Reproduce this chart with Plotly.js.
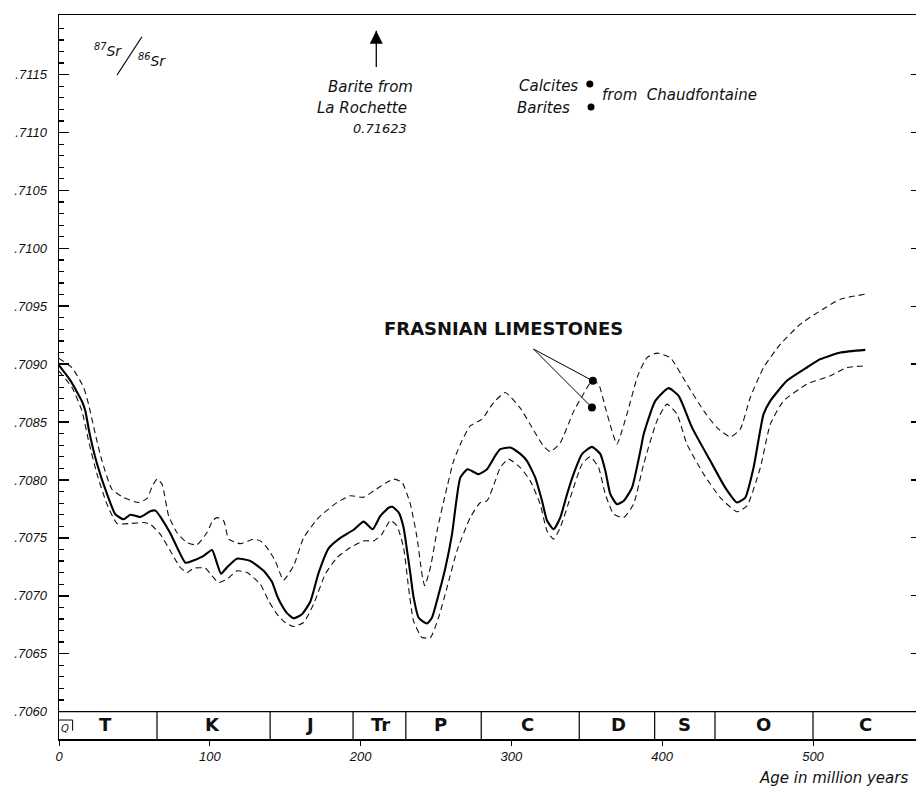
<!DOCTYPE html>
<html>
<head>
<meta charset="utf-8">
<script src="https://cdn.plot.ly/plotly-3.0.1.min.js"></script>
<style>
html,body{margin:0;padding:0;background:#fff;}
#chart{width:916px;height:789px;}
</style>
</head>
<body>
<div id="chart"></div>
<script>
// ---- Data: 87Sr/86Sr seawater curve vs age (Ma) ----
const mainAge = [0,7.5,15.2,17.4,20.3,25.2,31.8,37.3,42.8,47.3,53.9,60.5,64,68.3,73.8,79.3,83.8,88.2,95.9,101.5,104.3,107.4,111.4,118,126.9,135.7,141.2,144.6,146.8,151.2,155.6,161.1,166.7,172.2,178.8,186.6,195.4,202,208,213.1,218.6,221,225.2,228.5,230.8,233,235.1,238.5,244,247.3,251.7,256.2,260.6,263.5,266.1,270.9,278.2,283.8,289.3,292.6,299.3,305.9,310.3,315.8,320.3,323.6,328,332.4,336.9,341.2,346.8,353.4,359,362.3,365.6,370,374.4,380,385.5,387.7,395.4,404.2,410.9,419.8,431.9,441.8,449.6,455.1,460.6,467.2,471.7,482.7,496,504.8,518.1,534.7];
const mainSr = [0.70899,0.70886,0.70868,0.70860,0.70840,0.70814,0.70788,0.707705,0.70766,0.70770,0.70768,0.70773,0.707735,0.70766,0.70754,0.70739,0.707285,0.70730,0.707345,0.707395,0.70730,0.70719,0.707245,0.70732,0.70730,0.707215,0.70712,0.70700,0.70694,0.70685,0.706805,0.70684,0.70695,0.70720,0.70741,0.70750,0.70757,0.70764,0.707575,0.70769,0.70776,0.707768,0.70772,0.70759,0.70739,0.70719,0.70699,0.70681,0.70676,0.70681,0.70701,0.70724,0.70753,0.70782,0.70802,0.708093,0.70805,0.708093,0.70821,0.708266,0.70828,0.708225,0.708165,0.70802,0.70782,0.70765,0.707575,0.707675,0.707877,0.70805,0.708223,0.708286,0.708223,0.708079,0.707877,0.707791,0.707819,0.707934,0.70825,0.708395,0.708683,0.708793,0.708726,0.708452,0.708165,0.707934,0.707805,0.707848,0.708107,0.708568,0.708683,0.708856,0.708971,0.709043,0.70910,0.709123];

const upperAge = [0,8.6,16.3,19.6,24.1,28.5,35.1,42.8,52.8,58.4,62,65,68.3,72.7,78.2,84.9,91.5,98.1,102,104.8,109.2,112.5,120.2,129,133.5,137.9,143.4,148.9,155.6,162.2,172.2,184.4,193.2,202,208.7,217.5,221.9,227.5,233,237.4,240.7,242.5,246.3,250.7,256.2,261.7,267.2,272.7,280.5,288.2,295.9,305.9,314.7,321.4,325.8,332.4,341.2,349,353.4,357.8,362.3,366.7,370,376.6,383.8,389.9,396.5,405.3,416.4,427.5,436.3,445.2,451.8,458.4,467.2,478.4,491.6,504.8,518.1,534.7];
const upperSr = [0.70905,0.70897,0.70880,0.708655,0.708395,0.708165,0.70792,0.707848,0.707805,0.70784,0.70795,0.708007,0.707964,0.70769,0.707546,0.707459,0.70744,0.707546,0.70765,0.707675,0.707647,0.707489,0.70745,0.707489,0.707474,0.707416,0.707301,0.707135,0.70726,0.70750,0.707675,0.707805,0.707863,0.70785,0.707906,0.70798,0.708007,0.707978,0.707791,0.707503,0.707187,0.707086,0.707244,0.70756,0.707877,0.708165,0.708338,0.708467,0.708525,0.708668,0.708755,0.70862,0.70843,0.70829,0.708245,0.70832,0.70859,0.70877,0.708856,0.708827,0.708625,0.708424,0.708309,0.708568,0.70890,0.709057,0.709095,0.709057,0.708827,0.708597,0.708452,0.708372,0.708439,0.708712,0.708971,0.709173,0.709345,0.70946,0.709561,0.709604];

const lowerAge = [0,8.6,15.2,19.6,25.2,31.8,38.5,47.3,56.1,60.5,67.1,73.8,80.4,84.9,89.3,97,101.5,105.8,111.4,118,124.7,133.5,139,144.6,150,155.6,162.2,168.8,176.6,184.4,193.2,202,208.7,214.2,219.7,224.1,228.5,231.8,235.1,240.7,246.3,251.7,257.3,263.9,272.7,279.4,283.8,289.3,292.6,298.1,305.9,312.5,319.1,323.6,328,332.4,339.1,346.8,352.3,357.8,362.3,367.8,374.4,381,387.7,396.5,403.2,409.8,416.4,427.5,438.5,449.6,456.2,465.1,471.7,480.5,496,511.5,522.5,534.7];
const lowerSr = [0.70894,0.708798,0.708597,0.708338,0.70805,0.707791,0.707624,0.707624,0.707632,0.707618,0.707532,0.707388,0.707244,0.70720,0.707238,0.707238,0.707172,0.707114,0.707143,0.707215,0.70720,0.70710,0.706956,0.706841,0.706769,0.706734,0.706769,0.706927,0.707187,0.70733,0.707416,0.707474,0.707474,0.707532,0.70765,0.707604,0.707416,0.707071,0.706783,0.706639,0.706639,0.706812,0.707071,0.707388,0.707675,0.707805,0.707819,0.707992,0.708107,0.70818,0.708107,0.707992,0.707791,0.70756,0.707489,0.707589,0.707848,0.708136,0.70820,0.708107,0.707877,0.707705,0.707675,0.707791,0.708136,0.70851,0.708655,0.708568,0.708309,0.70805,0.707848,0.707725,0.707776,0.708107,0.708482,0.708683,0.708827,0.708899,0.708971,0.708985];

// Frasnian limestones and Chaudfontaine samples
const frasnianAge = [354, 353.4];
const frasnianSr = [0.708856, 0.708626];
const chaudAge = [352, 352.8];
const chaudSr = [0.71142, 0.71122];
const chaudLabels = ['Calcites', 'Barites'];
const laRochetteAge = 210.4;
const laRochetteValue = '0.71623';

// Geological periods
const periodBounds = [65, 140, 195, 230, 280, 345, 395, 435, 500];
const periodNames = ['T', 'K', 'J', 'Tr', 'P', 'C', 'D', 'S', 'O', 'C'];
const periodMid = [31, 102, 166, 213, 253, 311, 371, 415, 467, 535];

// Axis ticks
const yMajor = [0.7060,0.7065,0.7070,0.7075,0.7080,0.7085,0.7090,0.7095,0.7100,0.7105,0.7110,0.7115];
const yMajorText = ['.7060','.7065','.7070','.7075','.7080','.7085','.7090','.7095','.7100','.7105','.7110','.7115'];
const xTicks = [0,100,200,300,400,500];

const Y0 = 0.705763, Y1 = 0.712015, X1 = 568.3;
const yMinor = [];
for (let k = 0; k <= 59; k++) { const n = 7060 + k; if (n % 5 !== 0) yMinor.push(n / 10000); }

// leader-line anchor (below the FRASNIAN label) and arrow extent, display positions
const leadX = 314.7, leadY = 0.70913;
const arrowTail = 0.711566, arrowTip = 0.71196;

const lineBase = {type:'scatter', mode:'lines', hoverinfo:'skip', showlegend:false};
const traces = [
  Object.assign({x: upperAge, y: upperSr, line:{color:'#111', width:1.1, dash:'6px,4px', shape:'spline', smoothing:0.5}}, lineBase),
  Object.assign({x: lowerAge, y: lowerSr, line:{color:'#111', width:1.1, dash:'6px,4px', shape:'spline', smoothing:0.5}}, lineBase),
  Object.assign({x: mainAge, y: mainSr, line:{color:'#000', width:2.1, shape:'spline', smoothing:0.5}}, lineBase),
  Object.assign({x: [frasnianAge[0], leadX, frasnianAge[1]], y: [frasnianSr[0], leadY, frasnianSr[1]], line:{color:'#000', width:1}}, lineBase),
  {type:'scatter', mode:'markers', x: frasnianAge, y: frasnianSr, marker:{color:'#000', size:8}, hoverinfo:'skip', showlegend:false},
  {type:'scatter', mode:'markers', x: chaudAge, y: chaudSr, marker:{color:'#000', size:7}, hoverinfo:'skip', showlegend:false, yaxis:'y2'},
  Object.assign({x: [laRochetteAge, laRochetteAge], y: [arrowTail, arrowTip - 0.00008], line:{color:'#000', width:1.3}}, lineBase, {yaxis:'y3'}),
  {type:'scatter', mode:'markers', x: [laRochetteAge], y: [arrowTip - 0.00008], marker:{symbol:'arrow-up', size:13, color:'#000', line:{width:0}}, hoverinfo:'skip', showlegend:false}
];

const ital = (size) => ({family:'DejaVu Sans', size:size, color:'#111', style:'italic'});
const bold = (size) => ({family:'DejaVu Sans', size:size, color:'#111', weight:'bold'});

const shapes = [
  {type:'line', xref:'paper', yref:'y', x0:0, x1:1, y0:0.7060, y1:0.7060, line:{color:'#000', width:1.3}},
  {type:'path', xref:'paper', yref:'paper', path:'M 0 0.0262 L 0.0159 0.0262 L 0.0159 0.0115', line:{color:'#000', width:1}},
  {type:'line', xref:'paper', yref:'paper', x0:0.0677, y0:0.9171, x1:0.0968, y1:0.970, line:{color:'#000', width:1.2}}
];
periodBounds.forEach(b => shapes.push({type:'line', xref:'x', yref:'y', x0:b, x1:b, y0:Y0, y1:0.7060, line:{color:'#000', width:1.2}}));

const annotations = [];
periodNames.forEach((n, i) => annotations.push({x: periodMid[i], y: 0.705885, xref:'x', yref:'y', text: n, showarrow:false, font: bold(18), xanchor:'center', yanchor:'middle'}));
annotations.push({x:0.0075, y:0.004, xref:'paper', yref:'paper', text:'Q', showarrow:false, font: ital(10), xanchor:'center', yanchor:'bottom'});
annotations.push({x:0.0575, y:0.952, xref:'paper', yref:'paper', text:'<sup>87</sup>Sr', showarrow:false, font: ital(14), xanchor:'center', yanchor:'middle'});
annotations.push({x:0.1085, y:0.9378, xref:'paper', yref:'paper', text:'<sup>86</sup>Sr', showarrow:false, font: ital(14), xanchor:'center', yanchor:'middle'});
annotations.push({x:0.4156, y:0.9001, xref:'paper', yref:'paper', text:'Barite from', showarrow:false, font: ital(15), xanchor:'right', yanchor:'middle'});
annotations.push({x:0.4086, y:0.8715, xref:'paper', yref:'paper', text:'La Rochette', showarrow:false, font: ital(15), xanchor:'right', yanchor:'middle'});
annotations.push({x:0.4086, y:0.8439, xref:'paper', yref:'paper', text: laRochetteValue, showarrow:false, font: ital(13), xanchor:'right', yanchor:'middle'});
annotations.push({x:0.608, y:0.9019, xref:'paper', yref:'paper', text: chaudLabels[0], showarrow:false, font: ital(15), xanchor:'right', yanchor:'middle'});
annotations.push({x:0.5988, y:0.8711, xref:'paper', yref:'paper', text: chaudLabels[1], showarrow:false, font: ital(15), xanchor:'right', yanchor:'middle'});
annotations.push({x:0.6314, y:0.8895, xref:'paper', yref:'paper', text:'from  Chaudfontaine', showarrow:false, font: ital(15), xanchor:'left', yanchor:'middle'});
annotations.push({x:0.5188, y:0.5673, xref:'paper', yref:'paper', text:'FRASNIAN LIMESTONES', showarrow:false, font: bold(18), xanchor:'center', yanchor:'middle'});
annotations.push({x:0.993, y:-0.054, xref:'paper', yref:'paper', text:'Age in million years', showarrow:false, font: ital(15), xanchor:'right', yanchor:'middle'});

const tickFont = {family:'Liberation Sans', size:13, color:'#111', style:'italic'};
const layout = {
  width:916, height:789,
  margin:{l:59, r:0, t:15, b:50, pad:0},
  paper_bgcolor:'#fff', plot_bgcolor:'#fff',
  showlegend:false,
  xaxis:{range:[0, X1], tickmode:'array', tickvals: xTicks, ticktext: xTicks.map(String), ticks:'outside', ticklen:5, tickwidth:1, tickcolor:'#000',
         showline:true, linecolor:'#000', linewidth:1.5, mirror:true, showgrid:false, zeroline:false, tickfont: tickFont, fixedrange:true},
  yaxis:{range:[Y0, Y1], autorange:false, tickmode:'array', tickvals: yMajor, ticktext: yMajorText, ticks:'inside', ticklen:10, tickwidth:1.5, tickcolor:'#000',
         showline:true, linecolor:'#000', linewidth:1.5, showgrid:false, zeroline:false, tickfont: tickFont, ticklabelstandoff:8, fixedrange:true, layer:'above traces'},
  yaxis2:{range:[Y0, Y1], autorange:false, overlaying:'y', side:'right', anchor:'x', tickmode:'array', tickvals: yMajor.slice(1), ticktext: yMajor.slice(1).map(() => ''), ticks:'inside', ticklen:5, tickwidth:1.3, tickcolor:'#000',
          showticklabels:false, showline:false, showgrid:false, zeroline:false, fixedrange:true},
  yaxis3:{range:[Y0, Y1], autorange:false, overlaying:'y', side:'left', anchor:'x', tickmode:'array', tickvals: yMinor, ticktext: yMinor.map(() => ''), ticks:'inside', ticklen:5, tickwidth:1.2, tickcolor:'#000',
          showticklabels:false, showline:false, showgrid:false, zeroline:false, fixedrange:true},
  shapes: shapes,
  annotations: annotations
};

Plotly.newPlot('chart', traces, layout, {staticPlot:true, displayModeBar:false});
</script>
</body>
</html>
